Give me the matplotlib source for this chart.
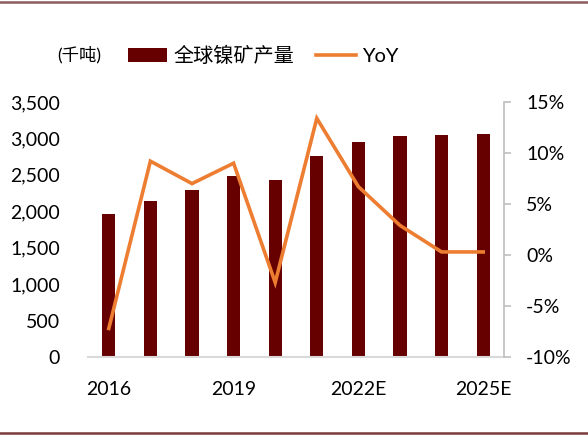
import matplotlib
matplotlib.use('Agg')
import matplotlib.pyplot as plt
from matplotlib.lines import Line2D
from matplotlib.patches import Patch
import numpy as np

plt.rcParams['font.family'] = ['Lato', 'Noto Sans CJK SC', 'DejaVu Sans']

# data
years = ['2016', '2017', '2018', '2019', '2020', '2021', '2022E', '2023E', '2024E', '2025E']
output = [1960, 2140, 2290, 2490, 2430, 2760, 2950, 3040, 3050, 3060]   # 千吨
yoy = [-7.2, 9.2, 7.0, 9.0, -2.7, 13.4, 6.7, 2.9, 0.3, 0.3]             # %
shown_ticks = ['2016', '2019', '2022E', '2025E']

bar_color = '#660000'
line_color = '#ED7D31'
grey = '#BFBFBF'

fig = plt.figure(figsize=(5.88, 4.37), dpi=100)
ax = fig.add_axes([88/588, 1-357/437, (504-88)/588, (357-102)/437])
ax2 = ax.twinx()

x = np.arange(len(years))
ax.bar(x, output, width=0.32, color=bar_color, zorder=2)
ax2.plot(x, yoy, color=line_color, lw=2.6, zorder=3, solid_joinstyle='miter')

ax.set_xlim(-0.5, len(years) - 0.5)
ax.set_ylim(0, 3500)
ax.set_yticks(np.arange(0, 3501, 500))
ax.set_yticklabels([f'{v:,}' for v in range(0, 3501, 500)])
ax2.set_ylim(-10, 15)
ax2.set_yticks(np.arange(-10, 16, 5))
ax2.set_yticklabels([f'{v}%' for v in range(-10, 16, 5)])

idx = [years.index(t) for t in shown_ticks]
ax.set_xticks(idx)
ax.set_xticklabels(shown_ticks)

for a in (ax, ax2):
    for s in ('top', 'left', 'right', 'bottom'):
        a.spines[s].set_visible(False)
ax.spines['bottom'].set_visible(True)
ax.spines['bottom'].set_color('#D9D9D9')
ax.spines['bottom'].set_linewidth(1.5)
ax2.spines['right'].set_visible(True)
ax2.spines['right'].set_color(grey)
ax2.spines['right'].set_linewidth(1.2)

ax.tick_params(axis='y', length=0, pad=20, labelsize=14)
ax.tick_params(axis='x', length=0, pad=17, labelsize=14)
ax2.tick_params(axis='y', length=5, width=1.2, color=grey, pad=11, labelsize=14)

# legend and unit
fig.text(57/588, 1-55/437, '(千吨)', fontsize=12.5, va='center', ha='left')
handles = [Patch(facecolor=bar_color, edgecolor='none', label='全球镍矿产量'),
           Line2D([0], [0], color=line_color, lw=2.6, label='YoY')]
fig.legend(handles=handles, loc='center left', bbox_to_anchor=(120/588, 1-55/437),
           ncol=2, frameon=False, fontsize=14.5, handlelength=1.95, handletextpad=0.3,
           columnspacing=1.1, borderaxespad=0)

# frame lines at top and bottom
fig.add_artist(Line2D([0, 1], [1-2/437, 1-2/437], color='#8C5B5B', lw=1.8))
fig.add_artist(Line2D([0, 1], [1-433/437, 1-433/437], color='#7A3B3B', lw=1.8))

fig.savefig('out.png', dpi=100)
